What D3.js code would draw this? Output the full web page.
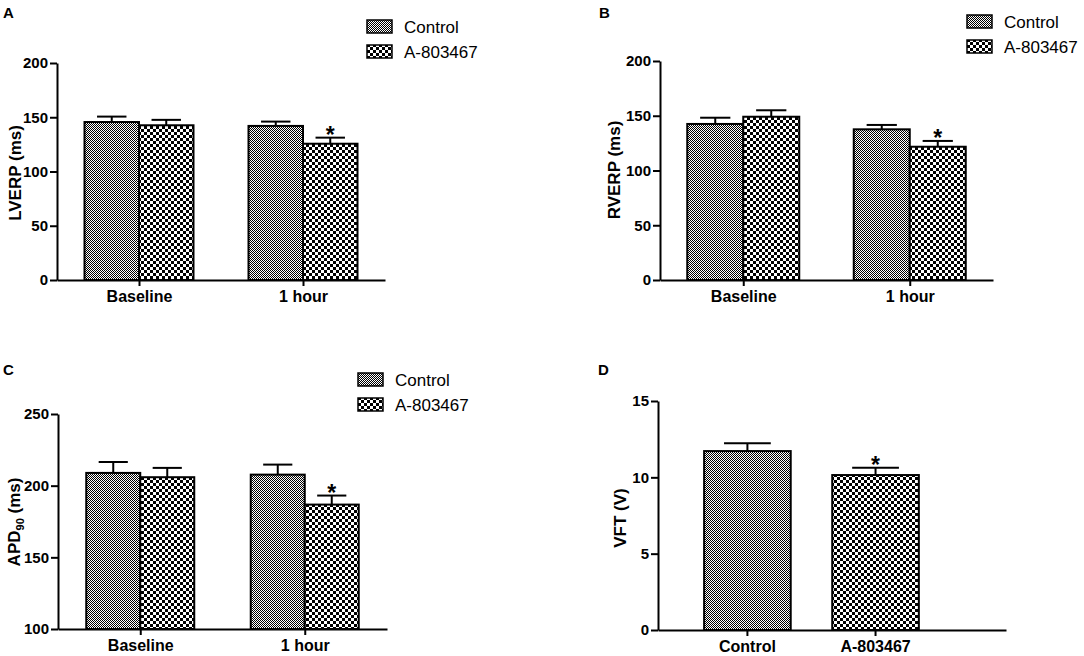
<!DOCTYPE html>
<html lang="en">
  <head>
    <meta charset="UTF-8" />
    <title>A-803467 electrophysiology</title>
    <style>
      body { margin: 0; background: #fff; }
      svg { font-family: "Liberation Sans", Arial, sans-serif; }
    </style>
  </head>
  <body>
    <svg id="chart" width="1084" height="656"></svg>

    <script src="https://cdn.jsdelivr.net/npm/d3@7"></script>
    <script>
      // ---- data ----
      var groups = ["Baseline", "1 hour"];
      var series = ["Control", "A-803467"];

      var lverpControl = [145.6, 142.0];
      var lverpControlSem = [5.0, 4.0];
      var lverpDrug = [142.6, 125.6];
      var lverpDrugSem = [5.0, 5.6];
      var lverpStar = [false, true];

      var rverpControl = [142.5, 137.6];
      var rverpControlSem = [5.7, 4.0];
      var rverpDrug = [149.1, 121.7];
      var rverpDrugSem = [5.9, 5.3];
      var rverpStar = [false, true];

      var apdControl = [208.9, 207.7];
      var apdControlSem = [7.6, 7.0];
      var apdDrug = [205.9, 186.8];
      var apdDrugSem = [6.5, 6.3];
      var apdStar = [false, true];

      var vftGroups = ["Control", "A-803467"];
      var vftMean = [11.72, 10.15];
      var vftSem = [0.51, 0.48];
      var vftStar = [false, true];

      var ticksERP = [0, 50, 100, 150, 200];
      var ticksAPD = [100, 150, 200, 250];
      var ticksVFT = [0, 5, 10, 15];

      var svg = d3.select("#chart");
      var defs = svg.append("defs");

      function checker(id, cell) {
        var p = defs.append("pattern")
          .attr("id", id)
          .attr("patternUnits", "userSpaceOnUse")
          .attr("width", cell * 2)
          .attr("height", cell * 2);
        p.append("rect").attr("width", cell * 2).attr("height", cell * 2).attr("fill", "#fff");
        p.append("rect").attr("width", cell).attr("height", cell).attr("fill", "#000");
        p.append("rect").attr("x", cell).attr("y", cell).attr("width", cell).attr("height", cell).attr("fill", "#000");
      }
      checker("pControl", 1);
      checker("pDrug", 3);
      var fills = { "Control": "url(#pControl)", "A-803467": "url(#pDrug)" };

      function styleAxis(g) {
        g.attr("font-family", null).attr("font-size", null);
        g.select(".domain").attr("stroke-width", 2);
        g.selectAll(".tick line").attr("stroke-width", 2);
        g.selectAll(".tick text")
          .style("font-size", "15px")
          .style("font-weight", "bold")
          .attr("fill", "#000");
      }

      function drawBars(g, rows, x, w, y, base) {
        // error bars (upper only), bars drawn over them
        var err = g.selectAll(".err").data(rows).enter().append("g").attr("class", "err");
        err.append("line")
          .attr("x1", function(d) { return x(d) + w / 2; })
          .attr("x2", function(d) { return x(d) + w / 2; })
          .attr("y1", function(d) { return y(d.v); })
          .attr("y2", function(d) { return y(d.v + d.e); })
          .attr("stroke", "#000").attr("stroke-width", 2);
        err.append("line")
          .attr("x1", function(d) { return x(d) + w / 2 - w * 0.27; })
          .attr("x2", function(d) { return x(d) + w / 2 + w * 0.27; })
          .attr("y1", function(d) { return y(d.v + d.e); })
          .attr("y2", function(d) { return y(d.v + d.e); })
          .attr("stroke", "#000").attr("stroke-width", 2);

        g.selectAll(".bar").data(rows).enter().append("rect")
          .attr("class", "bar")
          .attr("x", function(d) { return x(d); })
          .attr("width", w)
          .attr("y", function(d) { return y(d.v); })
          .attr("height", function(d) { return y(base) - y(d.v); })
          .attr("fill", function(d) { return fills[d.s]; })
          .attr("stroke", "#000")
          .attr("stroke-width", 2);

        g.selectAll(".star").data(rows.filter(function(d) { return d.star; })).enter().append("text")
          .attr("class", "star")
          .attr("x", function(d) { return x(d) + w / 2; })
          .attr("y", function(d) { return y(d.v + d.e) + 5; })
          .attr("text-anchor", "middle")
          .style("font-size", "23px")
          .style("font-weight", "bold")
          .text("*");
      }

      function legend(x0, y0) {
        var lg = svg.append("g").attr("transform", "translate(" + x0 + "," + y0 + ")");
        series.forEach(function(s, i) {
          lg.append("rect")
            .attr("x", 0).attr("y", i * 25)
            .attr("width", 25).attr("height", 13)
            .attr("fill", fills[s]).attr("stroke", "#000").attr("stroke-width", 1.5);
          lg.append("text")
            .attr("x", 37).attr("y", i * 25 + 13)
            .style("font-size", "17px")
            .text(s);
        });
      }

      function panelLabel(txt, x0, y0) {
        svg.append("text").attr("x", x0).attr("y", y0)
          .style("font-size", "15px").style("font-weight", "bold").text(txt);
      }

      function yTitle(tx, ty) {
        return svg.append("text")
          .attr("transform", "translate(" + tx + "," + ty + ")rotate(-90)")
          .attr("text-anchor", "middle")
          .style("font-size", "17px")
          .style("font-weight", "bold");
      }

      function grouped(cfg) {
        var g = svg.append("g");
        var x = d3.scalePoint().domain(groups).range([cfg.left, cfg.right]).padding(0.5);
        var xs = d3.scaleBand().domain(series).range([-cfg.half, cfg.half]);
        var y = d3.scaleLinear().domain(cfg.domain).range([cfg.bottom, cfg.top]);

        var rows = [];
        groups.forEach(function(grp, i) {
          rows.push({ grp: grp, s: "Control", v: cfg.control[i], e: cfg.controlSem[i], star: false });
          rows.push({ grp: grp, s: "A-803467", v: cfg.drug[i], e: cfg.drugSem[i], star: cfg.star[i] });
        });

        drawBars(g, rows, function(d) { return x(d.grp) + xs(d.s); }, xs.bandwidth(), y, cfg.domain[0]);

        g.append("g")
          .attr("transform", "translate(" + cfg.left + ",0)")
          .call(d3.axisLeft(y).tickValues(cfg.ticks).tickSize(7).tickSizeOuter(0).tickPadding(2))
          .call(styleAxis);

        var xa = g.append("g")
          .attr("transform", "translate(0," + cfg.bottom + ")")
          .call(d3.axisBottom(x).tickSize(6).tickSizeOuter(0))
          .call(styleAxis);
        xa.selectAll(".tick text").attr("y", 22).attr("dy", 0).style("font-size", "16px");
      }

      // ---- panel A ----
      grouped({ left: 57, right: 385, top: 63, bottom: 280, half: 54.5,
        domain: [0, 200], ticks: ticksERP,
        control: lverpControl, controlSem: lverpControlSem,
        drug: lverpDrug, drugSem: lverpDrugSem, star: lverpStar });
      panelLabel("A", 3, 18);
      legend(367, 20);
      yTitle(21, 173).text("LVERP (ms)");

      // ---- panel B ----
      grouped({ left: 660, right: 993, top: 61, bottom: 280, half: 56,
        domain: [0, 200], ticks: ticksERP,
        control: rverpControl, controlSem: rverpControlSem,
        drug: rverpDrug, drugSem: rverpDrugSem, star: rverpStar });
      panelLabel("B", 599, 18);
      legend(967, 15);
      yTitle(620, 170).text("RVERP (ms)");

      // ---- panel C ----
      grouped({ left: 58, right: 387, top: 414, bottom: 629, half: 54,
        domain: [100, 250], ticks: ticksAPD,
        control: apdControl, controlSem: apdControlSem,
        drug: apdDrug, drugSem: apdDrugSem, star: apdStar });
      panelLabel("C", 3, 375);
      legend(358, 373);
      var tc = yTitle(20, 522);
      tc.append("tspan").text("APD");
      tc.append("tspan").style("font-size", "11px").attr("dy", 4).text("90");
      tc.append("tspan").attr("dy", -4).text(" (ms)");

      // ---- panel D ----
      var gd = svg.append("g");
      var xd = d3.scaleBand().domain(vftGroups).range([658, 1006])
        .paddingInner(0.324).paddingOuter(0.52).align(0.346);
      var yd = d3.scaleLinear().domain([0, 15]).range([630, 401]);
      var vrows = vftGroups.map(function(k, i) {
        return { grp: k, s: k, v: vftMean[i], e: vftSem[i], star: vftStar[i] };
      });
      drawBars(gd, vrows, function(d) { return xd(d.grp); }, xd.bandwidth(), yd, 0);
      gd.append("g")
        .attr("transform", "translate(658,0)")
        .call(d3.axisLeft(yd).tickValues(ticksVFT).tickSize(7).tickSizeOuter(0).tickPadding(2))
        .call(styleAxis);
      var xda = gd.append("g")
        .attr("transform", "translate(0,630)")
        .call(d3.axisBottom(xd).tickSize(6).tickSizeOuter(0))
        .call(styleAxis);
      xda.selectAll(".tick text").attr("y", 22).attr("dy", 0).style("font-size", "16px");
      panelLabel("D", 598, 375);
      yTitle(626, 518).text("VFT (V)");
    </script>
  </body>
</html>
